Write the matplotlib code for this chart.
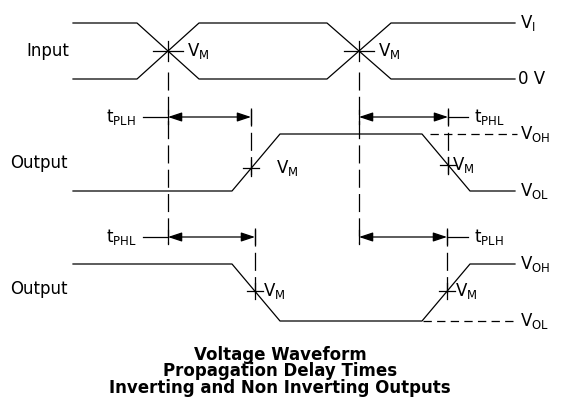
import numpy as np
import matplotlib
matplotlib.use("Agg")
import matplotlib.pyplot as plt
from matplotlib.patches import FancyArrowPatch

plt.rcParams["font.family"] = ["DejaVu Sans"]
plt.rcParams["mathtext.fontset"] = "dejavusans"
plt.rcParams["lines.scale_dashes"] = False

# waveform break points (time axis, level axis in picture units)
t_in = [73, 137, 199, 327, 391, 515]
in_a = [23, 23, 79, 79, 23, 23]
in_b = [79, 79, 23, 23, 79, 79]

t_out = [73, 232, 280, 422, 470, 515]
out_noninv = [191, 191, 134, 134, 191, 191]
out_inv = [264, 264, 321, 321, 264, 264]

# V_M crossing times
vm_in = [168, 359]
vm_noninv = [251, 448]
vm_inv = [255, 447]

# delay arrows: (start, stop) per row
delay_row_y = [117, 237]
delay_spans = [[(168, 251), (359, 448)], [(168, 255), (359, 447)]]
delay_labels = [["PLH", "PHL"], ["PHL", "PLH"]]

title_lines = ["Voltage Waveform", "Propagation Delay Times",
               "Inverting and Non Inverting Outputs"]

LW = 0.9
DASH = (13, 4.5)
FS = 12

fig = plt.figure(figsize=(5.61, 4.18), dpi=100)
ax = fig.add_axes([0, 0, 1, 1])
ax.set_xlim(0, 561)
ax.set_ylim(418, 0)
ax.axis("off")

# waveforms
ax.plot(t_in, in_a, color="black", lw=LW)
ax.plot(t_in, in_b, color="black", lw=LW)
ax.plot(t_out, out_noninv, color="black", lw=LW)
ax.plot(t_out, out_inv, color="black", lw=LW)


def cross(x, y, hw, vh):
    ax.plot([x - hw, x + hw], [y, y], color="black", lw=LW)
    ax.plot([x, x], [y - vh, y + vh], color="black", lw=LW)


def vm_label(x, y):
    ax.text(x, y, r"$\mathregular{V_M}$", fontsize=FS, va="center", ha="left")


mid_in = (in_a[0] + in_b[0]) / 2
for x in vm_in:
    cross(x, mid_in, 15, 10)
    vm_label(x + 19, mid_in)

vm_noninv_y = [np.interp(x, t_out, out_noninv) for x in vm_noninv]
vm_inv_y = [np.interp(x, t_out, out_inv) for x in vm_inv]
for x, y in zip(vm_noninv, vm_noninv_y):
    cross(x, y, 8, 8)
cross_lbl_dx = [25, 4]
for (x, y), dx in zip(zip(vm_noninv, vm_noninv_y), cross_lbl_dx):
    vm_label(x + dx, y)
for x, y in zip(vm_inv, vm_inv_y):
    cross(x, y, 8, 8)
    vm_label(x + 8, y)

# dashed reference lines
for x in vm_in:
    ax.plot([x, x], [mid_in + 21, delay_row_y[1] + 6], color="black",
            lw=LW, dashes=DASH)
for x, y in zip(vm_noninv, vm_noninv_y):
    ax.plot([x, x], [delay_row_y[0] - 9, y + 11], color="black",
            lw=LW, dashes=DASH)
for x, y in zip(vm_inv, vm_inv_y):
    ax.plot([x, x], [delay_row_y[1] - 9, y + 2], color="black",
            lw=LW, dashes=DASH)
ax.plot([430, 517], [out_noninv[2], out_noninv[2]], color="black",
        lw=LW, dashes=(6, 3.8))
ax.plot([423, 518], [out_inv[2], out_inv[2]], color="black",
        lw=LW, dashes=(6, 3.8))

# delay arrows
for ry, spans, labs in zip(delay_row_y, delay_spans, delay_labels):
    (a0, a1), (b0, b1) = spans
    for s0, s1 in spans:
        ax.add_patch(FancyArrowPatch(
            (s0, ry), (s1, ry),
            arrowstyle="<|-|>,head_length=0.6,head_width=0.2",
            mutation_scale=14, color="black", lw=LW, shrinkA=0, shrinkB=0))
        ax.plot([s0, s0], [ry - 7, ry + 7], color="black", lw=LW)
        ax.plot([s1, s1], [ry - 7, ry + 7], color="black", lw=LW)
    ax.plot([143, a0], [ry, ry], color="black", lw=LW)
    ax.plot([b1, 468], [ry, ry], color="black", lw=LW)
    ax.text(106, ry, r"$\mathregular{t_{%s}}$" % labs[0], fontsize=FS,
            va="center", ha="left")
    ax.text(474, ry, r"$\mathregular{t_{%s}}$" % labs[1], fontsize=FS,
            va="center", ha="left")

# side labels
ax.text(26, mid_in, "Input", fontsize=FS, va="center", ha="left")
ax.text(10, (out_noninv[0] + out_noninv[2]) / 2 + 1, "Output", fontsize=FS,
        va="center", ha="left")
ax.text(10, (out_inv[0] + out_inv[2]) / 2 - 3, "Output", fontsize=FS,
        va="center", ha="left")
ax.text(520, in_a[0], r"$\mathregular{V_I}$", fontsize=FS, va="center")
ax.text(518, in_b[0], "0 V", fontsize=FS, va="center")
ax.text(520, out_noninv[2], r"$\mathregular{V_{OH}}$", fontsize=FS, va="center")
ax.text(520, out_noninv[0], r"$\mathregular{V_{OL}}$", fontsize=FS, va="center")
ax.text(520, out_inv[0], r"$\mathregular{V_{OH}}$", fontsize=FS, va="center")
ax.text(520, out_inv[2], r"$\mathregular{V_{OL}}$", fontsize=FS, va="center")

for i, line in enumerate(title_lines):
    ax.text(280, 355 + 16.5 * i, line, fontsize=FS, fontweight="bold",
            ha="center", va="center")

fig.savefig("out.png", dpi=100)
